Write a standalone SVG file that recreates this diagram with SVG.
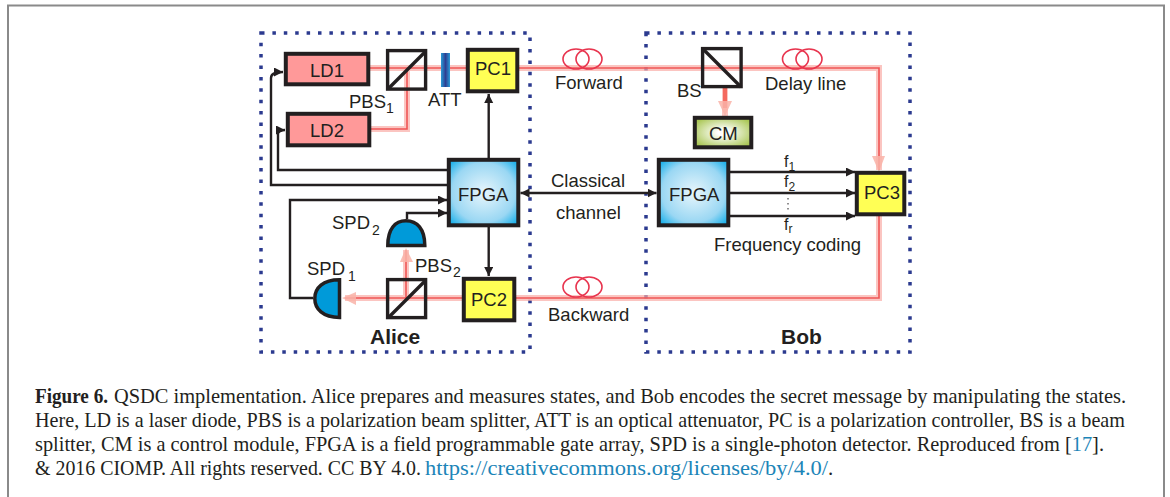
<svg xmlns="http://www.w3.org/2000/svg" width="1170" height="497" viewBox="0 0 1170 497">
<style>
text{font-family:"Liberation Sans",Arial,sans-serif;font-size:18.5px;fill:#231f20}
.sub{font-size:14px}
.f{font-size:16px}
.fs{font-size:12px}
.b{font-weight:bold;font-size:21px}
.cap{font-family:"Liberation Serif","Times New Roman",serif;font-size:21px}
.lnk{fill:#1c85b8}
.dot{fill:none;stroke:#2b3a8f;stroke-width:3.5;stroke-dasharray:3.5 7.9}
.box{stroke:#231f20;stroke-width:4}
.halo{fill:none;stroke:#f9aca6;stroke-width:6;opacity:.7}
.core{fill:none;stroke:#ef5656;stroke-width:1.6}
.head{fill:#f9b3a8;opacity:.85}
.coil{fill:none;stroke:#e8344e;stroke-width:1.6}
.w{fill:none;stroke:#231f20;stroke-width:2.4}
.split{fill:none;stroke:#231f20;stroke-width:3.4}
.det{fill:#009ad9;stroke:#231f20;stroke-width:3.5}
</style>
<defs>
<marker id="a" markerUnits="userSpaceOnUse" markerWidth="10" markerHeight="10" refX="9" refY="4.500" orient="auto"><path d="M0 0L9 4.500L0 9z" fill="#231f20"/></marker>
<marker id="as" markerUnits="userSpaceOnUse" markerWidth="10" markerHeight="10" refX="9" refY="4.500" orient="auto-start-reverse"><path d="M0 0L9 4.500L0 9z" fill="#231f20"/></marker>
<radialGradient id="blue" r=".7"><stop offset="0" stop-color="#e8f6fc"/><stop offset=".65" stop-color="#9ad7f3"/><stop offset="1" stop-color="#00a8e8"/></radialGradient>
<radialGradient id="green" r=".6"><stop offset=".15" stop-color="#fff"/><stop offset="1" stop-color="#a9c653"/></radialGradient>
<linearGradient id="att"><stop offset="0" stop-color="#2a9ad6"/><stop offset=".5" stop-color="#2e3f92"/><stop offset="1" stop-color="#2a9ad6"/></linearGradient>
</defs>
<path d="M8 497V5.500H1164V497" fill="none" stroke="#8a8a8a" stroke-width="2"/>
<rect id="alice" class="dot" x="261" y="33" width="269" height="319"/>
<rect id="bob" class="dot" x="646" y="33" width="264" height="319"/>
<g id="connectors">
<path class="halo" d="M370 68H879V170M371 129H407V68M879 216V298H516M462 298H345M406 298V250M725 88V116"/>
<path class="core" d="M370 68H879V170M371 129H407V68M879 216V298H516M462 298H345M406 298V250"/>
<path d="M725 88V108" fill="none" stroke="#f4695f" stroke-width="4"/>
<path class="head" d="M718 101H732L725 116z"/>
<path class="head" d="M872 156H885L879 172z"/>
<path class="head" d="M342 298L356 292V305z"/>
<path class="head" d="M406 248L400 262H413z"/>
<path class="w" d="M488.700 158V94" marker-end="url(#a)"/>
<path class="w" d="M488.700 227V276" marker-end="url(#a)"/>
<path class="w" d="M447 170H278V134Q278 130 285 130" marker-end="url(#a)"/>
<path class="w" d="M447 185H271V78Q271 72 283 72" marker-end="url(#a)"/>
<path class="w" d="M313 298H290V200H447" marker-end="url(#a)"/>
<path class="w" d="M407 219V213H447" marker-end="url(#a)"/>
<path class="w" d="M520.500 193H656.500" marker-start="url(#as)" marker-end="url(#a)"/>
<path class="w" d="M730 172H855" marker-end="url(#a)"/>
<path class="w" d="M730 193H855" marker-end="url(#a)"/>
<path class="w" d="M730 216H855" marker-end="url(#a)"/>
<path d="M788 198V210" fill="none" stroke="#231f20" stroke-width="1" stroke-dasharray="1.500 3.500"/>
<ellipse class="coil" cx="576" cy="59" rx="13" ry="10"/><ellipse class="coil" cx="589" cy="59" rx="13" ry="10"/>
<ellipse class="coil" cx="795.500" cy="59" rx="13" ry="10"/><ellipse class="coil" cx="809" cy="59" rx="13" ry="10"/>
<ellipse class="coil" cx="576" cy="287" rx="13" ry="10"/><ellipse class="coil" cx="589" cy="287" rx="13" ry="10"/>
</g>
<g id="LD1"><rect class="box" x="285.800" y="53.800" width="82.500" height="30.500" fill="#ff9999"/><text x="310" y="77">LD1</text></g>
<g id="LD2"><rect class="box" x="287.800" y="113.800" width="81.500" height="31.500" fill="#ff9999"/><text x="310" y="137">LD2</text></g>
<g id="PBS1"><rect class="split" x="387.600" y="50.600" width="38" height="38.500"/><path class="split" d="M389 88L425 52"/><text x="349" y="108">PBS</text><text class="sub" x="386" y="113">1</text></g>
<g id="ATT"><rect x="441" y="53" width="9" height="34" fill="url(#att)"/><text x="428" y="106">ATT</text></g>
<g id="PC1"><rect class="box" x="467.800" y="49.800" width="49.500" height="41.500" fill="#ffff55"/><text x="475" y="75">PC1</text></g>
<g id="FPGA_A"><rect class="box" x="448.800" y="159.800" width="69.500" height="65.500" fill="url(#blue)"/><text x="458" y="201">FPGA</text></g>
<g id="SPD2"><path class="det" d="M387.800 245.500C387.800 229 395 220.800 406 220.800C417 220.800 424.800 229 424.800 245.500Z"/><text x="332" y="229">SPD</text><text class="sub" x="372" y="235">2</text></g>
<g id="SPD1"><path class="det" d="M339.500 279.800V317.500C323 317.500 314.800 309 314.800 298.500C314.800 288 323 279.800 339.500 279.800Z"/><text x="307" y="275">SPD</text><text class="sub" x="348" y="281">1</text></g>
<g id="PBS2"><rect class="split" x="387.600" y="279.600" width="38" height="38"/><path class="split" d="M389 317L425 281"/><text x="415" y="272">PBS</text><text class="sub" x="453" y="277">2</text></g>
<g id="PC2"><rect class="box" x="463.800" y="278.800" width="50.500" height="41.500" fill="#ffff55"/><text x="471" y="306">PC2</text></g>
<text class="b" x="370" y="344">Alice</text>
<g id="BS"><rect class="split" x="702.600" y="48.600" width="38.500" height="38"/><path class="split" d="M703 49L741 87"/><text x="677" y="97">BS</text></g>
<g id="CM"><rect class="box" x="694.800" y="117.800" width="56.500" height="29.500" fill="url(#green)"/><text x="709" y="140">CM</text></g>
<g id="FPGA_B"><rect class="box" x="658.800" y="159.800" width="69.500" height="65.500" fill="url(#blue)"/><text x="669" y="201">FPGA</text></g>
<g id="PC3"><rect class="box" x="856.800" y="172.800" width="47.500" height="41.500" fill="#ffff55"/><text x="864" y="199">PC3</text></g>
<text x="555" y="89">Forward</text>
<text x="765" y="90">Delay line</text>
<text x="551" y="187">Classical</text>
<text x="556" y="219">channel</text>
<text x="548" y="321">Backward</text>
<text x="714" y="251">Frequency coding</text>
<text class="f" x="784" y="167">f</text><text class="fs" x="788.500" y="171">1</text>
<text class="f" x="784" y="187">f</text><text class="fs" x="788.500" y="191">2</text>
<text class="f" x="784" y="230">f</text><text class="fs" x="788.500" y="233">r</text>
<text class="b" x="781" y="344">Bob</text>
<text class="cap" x="35" y="403" style="font-weight:bold" textLength="73" lengthAdjust="spacingAndGlyphs">Figure 6.</text>
<text class="cap" x="114" y="403" textLength="1012" lengthAdjust="spacingAndGlyphs">QSDC implementation. Alice prepares and measures states, and Bob encodes the secret message by manipulating the states.</text>
<text class="cap" x="35" y="427" textLength="1090" lengthAdjust="spacingAndGlyphs">Here, LD is a laser diode, PBS is a polarization beam splitter, ATT is an optical attenuator, PC is a polarization controller, BS is a beam</text>
<text class="cap" x="35" y="451" textLength="1069" lengthAdjust="spacingAndGlyphs">splitter, CM is a control module, FPGA is a field programmable gate array, SPD is a single-photon detector. Reproduced from [<tspan class="lnk">17</tspan>].</text>
<text class="cap" x="35" y="475" textLength="386" lengthAdjust="spacingAndGlyphs">&amp; 2016 CIOMP. All rights reserved. CC BY 4.0.</text>
<text class="cap lnk" x="425" y="475" textLength="403" lengthAdjust="spacingAndGlyphs">https://creativecommons.org/licenses/by/4.0/</text>
<text class="cap" x="828" y="475">.</text>
</svg>
